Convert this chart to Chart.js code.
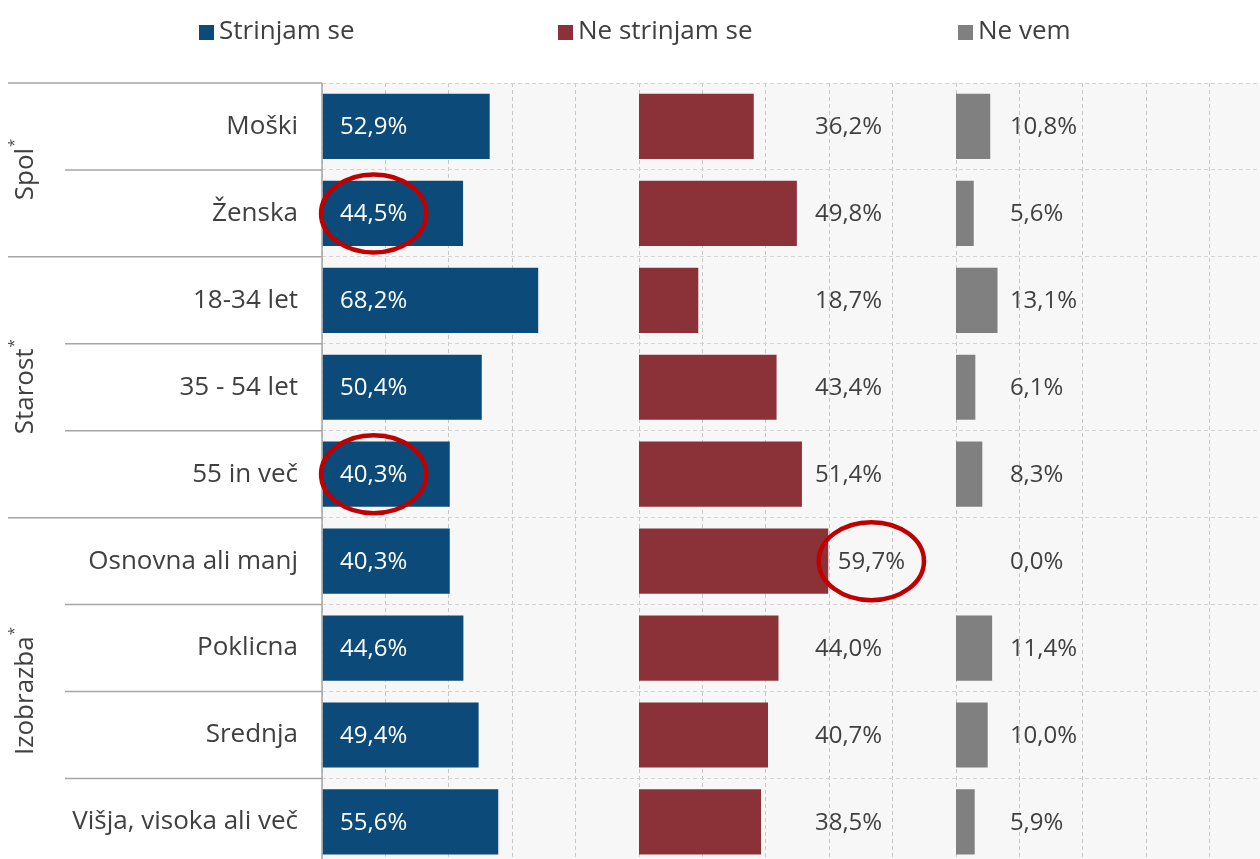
<!DOCTYPE html>
<html>
<head>
<meta charset="utf-8">
<script src="https://cdn.jsdelivr.net/npm/chart.js@4"></script>
<style>
  html, body { margin: 0; padding: 0; background: #fff; overflow: hidden; }
  #wrap { width: 1280px; height: 905px; }
</style>
</head>
<body>
<div id="wrap"><canvas id="myChart" width="1280" height="905"></canvas></div>
<script>
const categories = ["Moški", "Ženska", "18-34 let", "35 - 54 let", "55 in več",
  "Osnovna ali manj", "Poklicna", "Srednja", "Višja, visoka ali več"];
const agree = [52.9, 44.5, 68.2, 50.4, 40.3, 40.3, 44.6, 49.4, 55.6];
const disagree = [36.2, 49.8, 18.7, 43.4, 51.4, 59.7, 44.0, 40.7, 38.5];
const dontKnow = [10.8, 5.6, 13.1, 6.1, 8.3, 0.0, 11.4, 10.0, 5.9];
const seriesNames = ["Strinjam se", "Ne strinjam se", "Ne vem"];
const seriesColors = ["#0b4a79", "#8b3239", "#808080"];
// groups: label, first row, last row
const groups = [["Spol", 0, 1], ["Starost", 2, 4], ["Izobrazba", 5, 8]];
// rows with red rings round a label: [series index, row]
const marked = [[0, 1], [0, 4], [1, 5]];

const FONT = "'Open Sans', sans-serif";
const TXT = "#404040";

const pad1 = agree.map((v) => 100 - v);
const pad2 = disagree.map((v) => 100 - v);

function fmt(v) {
  return v.toFixed(1).replace(".", ",") + "%";
}

// where each value label sits (in axis units)
function labelX(s, i) {
  if (s === 0) return 5.7;
  if (s === 1) return Math.max(155.5, 100 + disagree[i] + 3);
  return Math.max(217, 200 + dontKnow[i] + 3.5);
}

const extras = {
  id: "extras",
  beforeDraw(chart) {
    const { ctx, chartArea: a } = chart;
    ctx.save();
    ctx.fillStyle = "#f7f7f7";
    ctx.fillRect(a.left, a.top, a.right - a.left, a.bottom - a.top);
    ctx.restore();
  },
  afterDraw(chart) {
    const { ctx, chartArea: a } = chart;
    const x = chart.scales.x;
    const y = chart.scales.y;
    const rowH = (a.bottom - a.top) / categories.length;
    ctx.save();

    // left separators
    ctx.strokeStyle = "#a6a6a6";
    ctx.lineWidth = 1.5;
    for (let r = 0; r <= categories.length; r++) {
      const yy = a.top + r * rowH;
      const isGroup = r === 0 || groups.some((g) => g[1] === r) || r === categories.length;
      ctx.beginPath();
      ctx.moveTo(isGroup ? 8 : 65, yy);
      ctx.lineTo(a.left, yy);
      ctx.stroke();
    }
    ctx.beginPath();
    ctx.moveTo(a.left, a.top);
    ctx.lineTo(a.left, a.bottom);
    ctx.stroke();

    // group titles
    groups.forEach((g) => {
      const cy = (a.top + g[1] * rowH + a.top + (g[2] + 1) * rowH) / 2;
      ctx.save();
      ctx.translate(26, cy);
      ctx.rotate(-Math.PI / 2);
      ctx.font = "26px " + FONT;
      const w = ctx.measureText(g[0]).width;
      ctx.font = "15px " + FONT;
      const ws = ctx.measureText("*").width;
      ctx.fillStyle = TXT;
      ctx.textBaseline = "middle";
      ctx.textAlign = "left";
      ctx.font = "26px " + FONT;
      ctx.fillText(g[0], -(w + ws) / 2, 0);
      ctx.font = "15px " + FONT;
      ctx.fillText("*", -(w + ws) / 2 + w + 1, -11);
      ctx.restore();
    });

    // value labels
    ctx.font = "24px " + FONT;
    ctx.textBaseline = "middle";
    ctx.textAlign = "left";
    const vals = [agree, disagree, dontKnow];
    vals.forEach((arr, s) => {
      arr.forEach((v, i) => {
        ctx.fillStyle = s === 0 ? "#ffffff" : TXT;
        ctx.fillText(fmt(v), x.getPixelForValue(labelX(s, i)), y.getPixelForValue(i) + 1);
      });
    });

    // red rings
    ctx.strokeStyle = "#c00000";
    ctx.lineWidth = 4.5;
    marked.forEach(([s, i]) => {
      const w = ctx.measureText(fmt(vals[s][i])).width;
      const cx = x.getPixelForValue(labelX(s, i)) + w / 2;
      const cy = y.getPixelForValue(i);
      ctx.beginPath();
      ctx.ellipse(cx, cy, w / 2 + 19, 39, 0, 0, Math.PI * 2);
      ctx.stroke();
    });

    // legend
    ctx.font = "26px " + FONT;
    const widths = seriesNames.map((n) => 20 + ctx.measureText(n).width);
    const starts = [199, 558, 958];
    seriesNames.forEach((n, k) => {
      ctx.fillStyle = seriesColors[k];
      ctx.fillRect(starts[k], 25, 15, 15);
      ctx.fillStyle = TXT;
      ctx.fillText(n, starts[k] + 20, 32);
    });
    ctx.restore();
  },
};

const ctx = document.getElementById("myChart").getContext("2d");
window.chart = new Chart(ctx, {
  type: "bar",
  data: {
    labels: categories,
    datasets: [
      { label: seriesNames[0], data: agree, backgroundColor: seriesColors[0] },
      { label: "", data: pad1, backgroundColor: "rgba(0,0,0,0)" },
      { label: seriesNames[1], data: disagree, backgroundColor: seriesColors[1] },
      { label: "", data: pad2, backgroundColor: "rgba(0,0,0,0)" },
      { label: seriesNames[2], data: dontKnow, backgroundColor: seriesColors[2] },
    ],
  },
  options: {
    indexAxis: "y",
    responsive: false,
    animation: false,
    events: [],
    barPercentage: 0.75,
    categoryPercentage: 1,
    layout: { padding: { top: 83, right: 7, bottom: 4, left: 0 } },
    scales: {
      x: {
        stacked: true,
        min: 0,
        max: 300,
        ticks: { display: false, stepSize: 20 },
        border: { display: false, dash: [4, 3] },
        grid: { color: "#c8c8c8", drawTicks: false, lineWidth: 1 },
        afterFit(s) { s.height = 0; },
      },
      y: {
        stacked: true,
        ticks: { color: TXT, font: { family: "'Open Sans', sans-serif", size: 26 }, padding: 24 },
        border: { display: false, dash: [4, 3] },
        grid: { color: "#d4d4d4", drawTicks: false, offset: true },
        afterFit(s) { s.width = 322; },
      },
    },
    plugins: {
      legend: { display: false },
      tooltip: { enabled: false },
    },
  },
  plugins: [extras],
});
</script>
</body>
</html>
